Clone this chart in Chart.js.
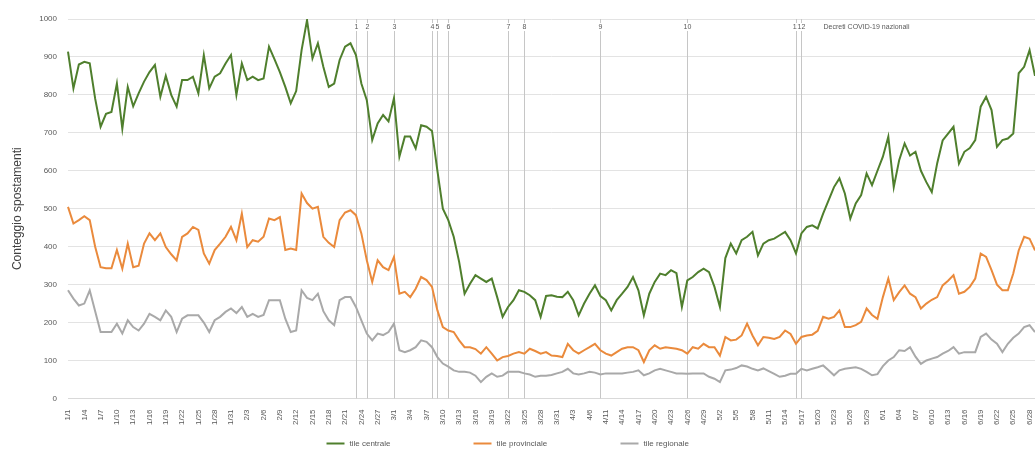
<!DOCTYPE html>
<html>
<head>
<meta charset="utf-8">
<script src="https://cdn.jsdelivr.net/npm/chart.js@4.4.1/dist/chart.umd.min.js"></script>
<style>
  html, body { margin: 0; padding: 0; background: #ffffff; }
  #wrap { width: 1035px; height: 453px; }
</style>
</head>
<body>
<div id="wrap"><canvas id="c" width="1035" height="453"></canvas></div>
<script>
// Daily categories (2020); 4/7 and 4/8 have no record
const categories = [
  '1/1','1/2','1/3','1/4','1/5','1/6','1/7','1/8','1/9','1/10','1/11','1/12','1/13','1/14','1/15','1/16',
  '1/17','1/18','1/19','1/20','1/21','1/22','1/23','1/24','1/25','1/26','1/27','1/28','1/29','1/30','1/31',
  '2/1','2/2','2/3','2/4','2/5','2/6','2/7','2/8','2/9','2/10','2/11','2/12','2/13','2/14','2/15',
  '2/16','2/17','2/18','2/19','2/20','2/21','2/22','2/23','2/24','2/25','2/26','2/27','2/28','2/29',
  '3/1','3/2','3/3','3/4','3/5','3/6','3/7','3/8','3/9','3/10','3/11','3/12','3/13','3/14','3/15','3/16',
  '3/17','3/18','3/19','3/20','3/21','3/22','3/23','3/24','3/25','3/26','3/27','3/28','3/29','3/30','3/31',
  '4/1','4/2','4/3','4/4','4/5','4/6','4/9','4/10','4/11','4/12','4/13','4/14','4/15','4/16','4/17',
  '4/18','4/19','4/20','4/21','4/22','4/23','4/24','4/25','4/26','4/27','4/28','4/29','4/30',
  '5/1','5/2','5/3','5/4','5/5','5/6','5/7','5/8','5/9','5/10','5/11','5/12','5/13','5/14','5/15','5/16',
  '5/17','5/18','5/19','5/20','5/21','5/22','5/23','5/24','5/25','5/26','5/27','5/28','5/29','5/30','5/31',
  '6/1','6/2','6/3','6/4','6/5','6/6','6/7','6/8','6/9','6/10','6/11','6/12','6/13','6/14','6/15',
  '6/16','6/17','6/18','6/19','6/20','6/21','6/22','6/23','6/24','6/25','6/26','6/27','6/28','6/29'
];

const tileCentrale = [
  914,817,880,887,883,790,716,750,755,830,
  711,821,770,804,835,860,879,795,850,800,
  769,839,839,848,804,905,817,848,857,883,
  905,800,883,839,848,839,843,927,894,860,
  821,778,810,918,997,896,936,874,821,830,
  892,927,936,905,830,786,681,725,747,730,
  791,637,690,690,659,720,716,705,600,500,
  470,426,360,276,302,325,316,307,316,267,
  215,241,259,285,281,272,259,215,270,272,
  268,267,281,259,219,250,276,298,270,259,
  232,259,276,294,320,285,219,276,307,329,
  325,338,330,241,311,320,333,342,333,294,
  241,370,408,382,417,426,439,377,408,417,
  421,430,439,417,382,435,452,456,448,487,
  522,557,580,540,474,514,536,593,562,600,
  637,690,557,628,672,640,650,600,570,544,
  620,680,698,716,619,650,660,681,769,795,
  760,663,681,685,698,857,874,918,850
];

const tileProvinciale = [
  505,461,470,480,470,400,346,343,343,391,
  342,408,346,350,408,435,417,435,399,380,
  364,426,435,452,444,382,355,391,408,426,
  452,417,487,399,417,413,426,474,470,478,
  391,395,391,540,515,500,505,426,410,399,
  470,490,496,483,435,364,307,364,346,338,
  373,276,281,267,289,320,312,294,232,188,
  179,175,153,135,135,130,118,135,118,100,
  109,112,118,122,118,131,125,118,122,113,
  112,109,144,127,118,127,135,144,127,118,
  113,122,131,135,135,127,96,127,140,131,
  135,133,131,127,118,135,131,144,135,135,
  113,162,153,155,166,197,166,140,162,160,
  157,162,179,170,144,162,166,168,178,215,
  210,215,232,188,188,193,202,237,220,210,
  267,316,259,280,298,276,267,237,250,260,
  267,298,310,325,276,281,294,316,382,373,
  338,300,285,285,329,390,426,421,390
];

const tileRegionale = [
  285,263,245,250,285,230,175,175,175,197,
  171,206,188,179,197,223,215,206,232,215,
  175,210,219,219,219,200,175,206,215,228,
  237,225,241,215,223,215,220,259,259,259,
  210,175,179,285,265,259,276,230,206,193,
  259,267,267,241,206,171,153,171,167,175,
  197,127,122,127,135,153,149,135,109,92,
  84,74,70,70,68,60,43,57,66,57,
  60,70,70,70,66,63,57,60,60,62,
  66,70,78,66,63,66,70,68,63,66,
  66,66,66,68,70,74,61,66,74,78,
  74,70,66,66,65,66,66,66,57,52,
  43,74,76,80,87,84,78,74,79,72,
  65,57,60,65,65,78,74,78,82,87,
  74,61,74,78,80,82,78,70,61,64,
  85,100,109,127,125,135,110,91,100,105,
  109,118,125,135,118,122,122,122,162,171,
  155,144,122,144,160,171,188,193,175
];

const seriesNames = ['tile centrale', 'tile provinciale', 'tile regionale'];
const seriesColors = ['#4f7f2d', '#ea8a3c', '#a9a9a9'];

// National decrees: dates and their marker numbers
const decreeDates = ['2/23','2/25','3/1','3/8','3/9','3/11','3/22','3/25','4/10','4/26','5/16','5/17'];
const decreeLabels = ['1','2','3','4','5','6','7','8','9','10','11','12'];
const decreeCaption = 'Decreti COVID-19 nazionali';

const yAxisTitle = 'Conteggio spostamenti';
const yMin = 0, yMax = 1000, yStep = 100;
const labelEvery = 3;

const FONT = '"Liberation Sans", Arial, sans-serif';

const decreePlugin = {
  id: 'decrees',
  beforeDatasetsDraw(chart) {
    const { ctx, chartArea, scales } = chart;
    const x = scales.x;
    const positions = decreeDates.map(d => Math.round(x.getPixelForValue(categories.indexOf(d))) + 0.5);
    ctx.save();
    ctx.strokeStyle = '#c6c6c6';
    ctx.lineWidth = 1;
    positions.forEach(px => {
      ctx.beginPath();
      ctx.moveTo(px, chartArea.top);
      ctx.lineTo(px, chartArea.bottom);
      ctx.stroke();
    });
    ctx.font = '7px ' + FONT;
    ctx.textAlign = 'center';
    ctx.textBaseline = 'middle';
    const ty = chartArea.top + 8;
    positions.forEach((px, k) => {
      const w = ctx.measureText(decreeLabels[k]).width;
      ctx.fillStyle = '#ffffff';
      ctx.fillRect(px - w / 2 - 0.5, ty - 4, w + 1, 8);
      ctx.fillStyle = '#595959';
      ctx.fillText(decreeLabels[k], px, ty);
    });
    ctx.textAlign = 'left';
    ctx.fillStyle = '#595959';
    ctx.fillText(decreeCaption, positions[positions.length - 1] + 22, ty);
    ctx.restore();
  }
};

const legendPlugin = {
  id: 'bottomLegend',
  afterDraw(chart) {
    const { ctx } = chart;
    const slot = 147;
    const startX = chart.width / 2 - 191;
    const y = 443.5;
    ctx.save();
    ctx.font = '8px ' + FONT;
    ctx.textBaseline = 'middle';
    ctx.textAlign = 'left';
    chart.data.datasets.forEach((ds, k) => {
      const x0 = startX + k * slot;
      ctx.strokeStyle = ds.borderColor;
      ctx.lineWidth = 2;
      ctx.beginPath();
      ctx.moveTo(x0, y);
      ctx.lineTo(x0 + 18, y);
      ctx.stroke();
      ctx.fillStyle = '#595959';
      ctx.fillText(ds.label, x0 + 23, y);
    });
    ctx.restore();
  }
};

const series = [tileCentrale, tileProvinciale, tileRegionale];

new Chart(document.getElementById('c'), {
  type: 'line',
  data: {
    labels: categories,
    datasets: series.map((values, k) => ({
      label: seriesNames[k],
      data: values,
      borderColor: seriesColors[k],
      backgroundColor: seriesColors[k],
      borderWidth: 2,
      pointRadius: 0,
      tension: 0
    }))
  },
  options: {
    responsive: false,
    animation: false,
    layout: { padding: { left: 10, top: 19, right: 0, bottom: 25 } },
    plugins: {
      legend: { display: false },
      tooltip: { enabled: false }
    },
    scales: {
      x: {
        offset: false,
        grid: { display: false },
        border: { color: '#d9d9d9' },
        ticks: {
          autoSkip: false,
          maxRotation: 90,
          minRotation: 90,
          padding: 3,
          color: '#595959',
          font: { size: 8, family: FONT },
          callback: (v, i) => (i % labelEvery === 0 ? categories[i] : null)
        },
        afterFit(scale) { scale.paddingLeft = 0; scale.paddingRight = 0; }
      },
      y: {
        min: yMin,
        max: yMax,
        grid: { color: '#e3e3e3', drawTicks: false },
        border: { display: false },
        ticks: {
          stepSize: yStep,
          padding: 11,
          color: '#595959',
          font: { size: 8, family: FONT },
          callback: v => String(v)
        },
        title: {
          display: true,
          text: yAxisTitle,
          color: '#404040',
          font: { size: 12, family: FONT },
          padding: { top: 0, bottom: 0 }
        },
        afterFit(scale) { scale.width = 58; }
      }
    }
  },
  plugins: [decreePlugin, legendPlugin]
});
</script>
</body>
</html>
